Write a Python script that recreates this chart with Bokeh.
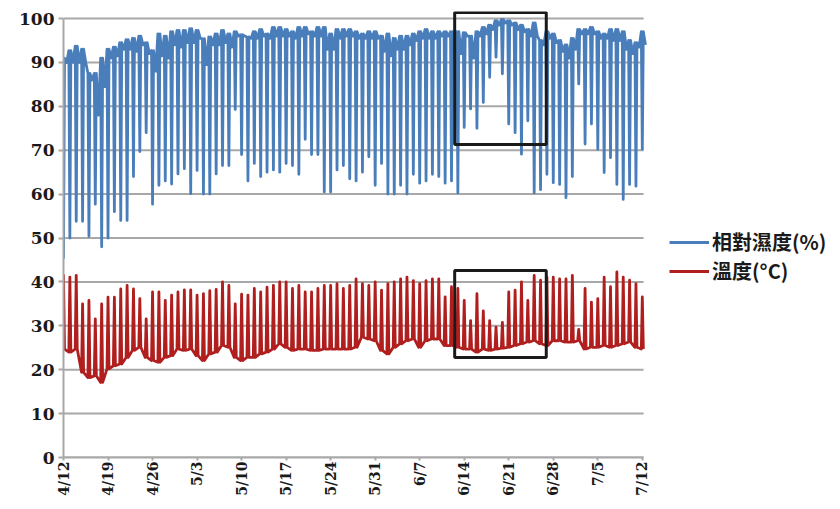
import numpy as np
from bokeh.plotting import figure
from bokeh.models import FixedTicker, Legend, LegendItem, Range1d
from bokeh.embed import file_html
from bokeh.resources import INLINE

# ---------------- data (one value per day, 4/12 .. 7/12) ----------------
tick_labels = ["4/12", "4/19", "4/26", "5/3", "5/10", "5/17", "5/24",
               "5/31", "6/7", "6/14", "6/21", "6/28", "7/5", "7/12"]
y_ticks = [0, 10, 20, 30, 40, 50, 60, 70, 80, 90, 100]

# relative humidity (%): daily peak, daily minimum, night-time level
rh_max = [91, 92.7, 93.7, 93, 87.5, 87.5, 91, 93, 93.5, 94.5,
          95.2, 95.5, 96, 94.5, 92.7, 96.5, 96, 97, 97.3, 97.3,
          97.7, 97.3, 95.4, 95.8, 96.5, 97.3, 96.5, 97, 96.3, 95.8,
          97, 97.5, 96.5, 98, 98, 97.5, 97, 98, 98, 97,
          98, 98, 96.5, 97.5, 97.5, 97.5, 97, 96.5, 97, 97,
          96, 96.5, 95.5, 96, 96, 96.5, 97, 97.5, 97, 97,
          97, 97, 97, 96.8, 96, 97, 98, 98.5, 99.5, 99.8,
          99.5, 99, 98.5, 97.5, 99, 95, 97, 96.5, 95, 94,
          95.5, 97.5, 97.5, 98, 97, 96.5, 97.5, 97.5, 97, 95,
          94.5, 97]
rh_min = [45.5, 50, 53.8, 53.8, 50.4, 57.7, 48, 50, 56, 54,
          54, 64, 69.7, 74, 57.7, 62, 63, 62.3, 64.6, 65.8,
          60.1, 65.4, 60, 60, 64.6, 66.5, 66.5, 79.3, 69, 63,
          67, 64, 65, 65.5, 65, 67, 66.5, 64.5, 72.5, 69,
          69, 60.5, 60.5, 65.5, 66.5, 63.5, 63, 65, 68.5, 62,
          67, 60, 60, 62, 60, 64.5, 62.5, 63, 64.5, 64,
          62.5, 63, 60.3, 75.2, 79.4, 75, 80.9, 86.6, 91.2, 87.4,
          76, 74, 69.1, 76.7, 60.3, 61, 64.5, 62.6, 62.2, 59.2,
          64, 85.1, 71.4, 76, 70.2, 64.9, 68.3, 62.2, 58.8, 62.2,
          61.8, 70.2]
rh_base = [90, 90, 90, 90, 86, 78, 84.5, 91, 91.5, 93,
           93, 92.5, 94, 92, 88, 91.5, 91, 94, 93.5, 94.5,
           94.5, 95.5, 89.5, 94, 94, 94.5, 93.5, 96, 96, 95.5,
           95.5, 96, 95.5, 96, 96, 96, 95.5, 96, 96.5, 96,
           96, 93, 93, 95.5, 96, 96, 95.5, 95.5, 95.5, 95.5,
           92.5, 91.5, 93, 93, 94, 95, 95.5, 95.5, 95.5, 96,
           96, 92.5, 92, 96, 91, 96, 96.5, 97.5, 98.5, 99,
           98.5, 97.5, 97, 96, 96, 94, 95.5, 94.5, 92.5, 91,
           93, 96.5, 96.5, 96.5, 95.5, 95.5, 95, 95, 93, 92,
           93.5, 94]

# temperature (deg C): daily maximum, daily minimum
t_max = [41.5, 41.1, 41.5, 35, 35.8, 31.6, 35, 36.5, 36.5, 38.4,
         39.2, 38.4, 36.2, 31.6, 37.7, 37.7, 35.8, 37, 37.7, 38.2,
         38.2, 37, 37.3, 38, 38.3, 40, 39.2, 35, 37.2, 37,
         38.5, 37.7, 38.8, 39.2, 40, 40, 38.5, 39.2, 37.7, 37.7,
         38.5, 39.2, 39.2, 39.6, 38.5, 39.2, 40.7, 39.6, 39.2, 40,
         38.1, 39.6, 40, 40.7, 41.1, 40.3, 39.6, 40.3, 40.7, 40.7,
         36.6, 38.9, 38.5, 35.8, 31.2, 37.3, 33.4, 31.2, 29.7, 30.8,
         37.7, 38.1, 40, 35.8, 41.5, 40.4, 41.1, 41.1, 40.7, 40.7,
         41.5, 29.2, 38.5, 35.4, 36.2, 41.1, 38.9, 42.3, 41.1, 40.4,
         39.6, 36.6]
t_min = [24.7, 24, 24.7, 19.4, 18.2, 18.6, 17.1, 20.2, 20.9, 21.3,
         22.8, 24.4, 25.1, 22.8, 22.1, 21.7, 22.8, 23.2, 24.7, 24.4,
         24.7, 23.2, 22.1, 23.6, 24, 25.5, 25.1, 22.8, 22.1, 22.8,
         22.8, 23.6, 24, 24.7, 25.9, 25.1, 24.4, 24.7, 24.7, 24.4,
         24.4, 24.7, 24.7, 24.7, 24.7, 24.7, 25.1, 27.4, 27, 26.6,
         24.4, 23.6, 25.1, 25.9, 26.6, 27, 25.1, 26.6, 27, 27,
         25.5, 25.5, 25.1, 24.7, 24.7, 24, 24.7, 24.4, 24.7, 24.9,
         25.1, 25.5, 25.9, 26.3, 26.6, 25.9, 25.5, 26.6, 26.6, 26.3,
         26.3, 26.6, 24.7, 25.1, 25.1, 25.5, 25.1, 25.5, 25.9, 26.3,
         25.1, 24.7]

# highlighted period (day index from 4/12) and value ranges of the two boxes
hl_days = [61.5, 75.9]
hl_rh = [71.3, 101.4]
hl_t = [22.8, 42.6]

# ---------------- build line paths from the daily values ----------------
n = len(rh_max)
rh_x, rh_y, t_x, t_y = [], [], [], []
for d in range(n):
    rh_x += [d - 0.16, d, d + 0.16, d + 0.5]
    rh_y += [rh_max[d], rh_min[d], rh_max[d], rh_base[d]]
    t_x += [d - 0.16, d, d + 0.16]
    t_y += [t_min[d], t_max[d], t_min[d]]

BLUE = "#4a7ebb"
RED = "#b01e1e"
GRID = "#a8a8a8"
SERIF = "DejaVu Serif"

X_END = 91.2          # last day shown on the axis
# the frame also holds the legend area at the right (6.36 px per day)
p = figure(width=832, height=501, output_backend="svg", toolbar_location=None,
           x_range=Range1d(0, 120.9), y_range=Range1d(0, 101.6),
           min_border_left=63, min_border_right=0,
           min_border_top=11, min_border_bottom=44)
p.outline_line_color = None
p.background_fill_color = "white"
p.border_fill_color = "white"

# horizontal grid lines, limited to the data area
p.segment(x0=[0] * len(y_ticks), x1=[X_END] * len(y_ticks), y0=y_ticks, y1=y_ticks,
          line_color=GRID, line_width=2)

rh_r = p.line(rh_x, rh_y, line_color=BLUE, line_width=2.8, line_join="round")
t_r = p.line(t_x, t_y, line_color=RED, line_width=2.8, line_join="round")

p.quad(left=[hl_days[0], hl_days[0]], right=[hl_days[1], hl_days[1]],
       bottom=[hl_rh[0], hl_t[0]], top=[hl_rh[1], hl_t[1]],
       fill_alpha=0, line_color="#1a1a1a", line_width=3)

# axes
xt = [7 * i for i in range(len(tick_labels))]
p.xaxis.ticker = FixedTicker(ticks=xt)
p.xaxis.bounds = (0, X_END)
p.xaxis.major_label_overrides = {t: lab for t, lab in zip(xt, tick_labels)}
p.xaxis.major_label_orientation = 1.5708
p.xaxis.minor_tick_line_color = None
p.xaxis.major_tick_in = 0
p.xaxis.major_tick_out = 3
p.xaxis.major_label_standoff = 1
p.xaxis.axis_line_color = GRID
p.xaxis.axis_line_width = 2
p.xaxis.major_tick_line_color = GRID
p.xaxis.major_tick_line_width = 2
p.xaxis.major_label_text_font = SERIF
p.xaxis.major_label_text_font_style = "bold"
p.xaxis.major_label_text_font_size = "14px"
p.xaxis.major_label_text_color = "#1a1a1a"

p.yaxis.ticker = FixedTicker(ticks=y_ticks)
p.yaxis.bounds = (0, 100)
p.yaxis.minor_tick_line_color = None
p.yaxis.major_tick_in = 0
p.yaxis.major_tick_out = 5
p.yaxis.major_label_standoff = 4
p.yaxis.axis_line_color = GRID
p.yaxis.axis_line_width = 2
p.yaxis.major_tick_line_color = GRID
p.yaxis.major_tick_line_width = 2
p.yaxis.major_label_text_font = SERIF
p.yaxis.major_label_text_font_style = "bold"
p.yaxis.major_label_text_font_size = "17px"
p.yaxis.major_label_text_color = "#1a1a1a"

p.xgrid.grid_line_color = None
p.ygrid.grid_line_color = None

legend = Legend(items=[LegendItem(label="相對濕度(%)", renderers=[rh_r]),
                       LegendItem(label="溫度(°C)", renderers=[t_r])],
                location=(606, 172), padding=0, margin=0, spacing=0,
                glyph_width=40, glyph_height=20, label_height=20,
                label_standoff=3, border_line_color=None,
                background_fill_alpha=0,
                label_text_font="Noto Sans CJK TC", label_text_font_style="bold",
                label_text_font_size="20px", label_text_color="#1a1a1a")
p.add_layout(legend)

open("out.html", "w").write(file_html(p, INLINE))
